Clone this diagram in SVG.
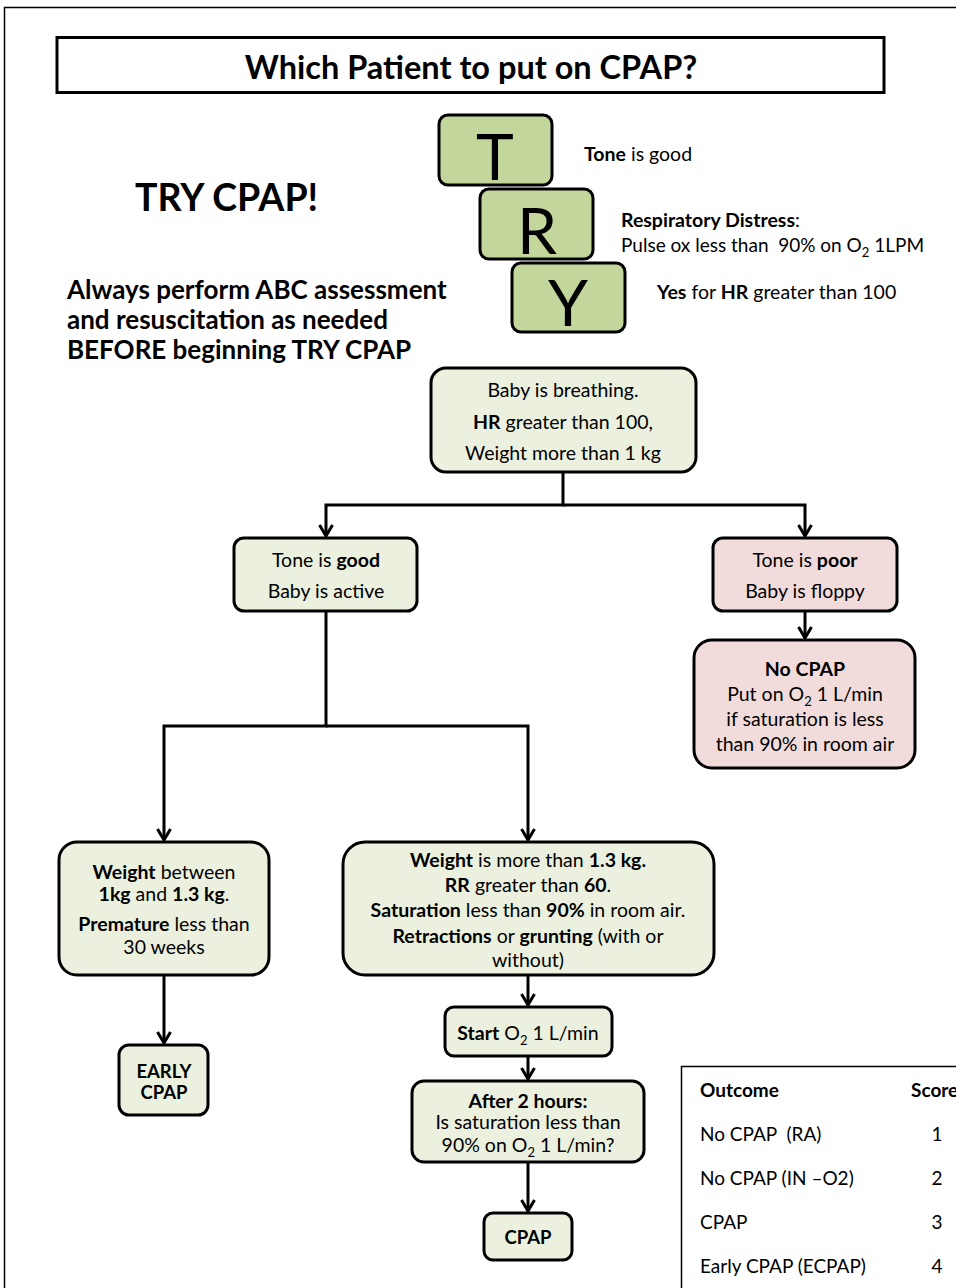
<svg xmlns="http://www.w3.org/2000/svg" width="956" height="1288" viewBox="0 0 956 1288">
<defs>
<style>
text{font-family:Lato,"Open Sans","Liberation Sans",sans-serif;fill:#000}
.b{font-weight:bold}
.box{stroke:#000;stroke-width:3}
.g{fill:#ebf1de}
.p{fill:#f2dcdb}
.try{fill:#c3d69b;stroke:#000;stroke-width:3}
.t18{font-size:19.5px}
.c{text-anchor:middle}
.pre{white-space:pre}
.con{fill:none;stroke:#000;stroke-width:3}
.big{font-size:64px}
.tb{font-size:19px}
</style>
<marker id="arr" markerUnits="userSpaceOnUse" viewBox="0 0 14 16" markerWidth="14" markerHeight="16" refX="12" refY="8" orient="auto">
<path d="M1,1.5 L12,8 L1,14.5" fill="none" stroke="#000" stroke-width="3"/>
</marker>
</defs>
<rect x="0" y="0" width="956" height="1288" fill="#fff"/>
<path d="M4.5,1288 V7.5 H960" fill="none" stroke="#000" stroke-width="1.5"/>

<g id="title">
<rect x="57" y="37.5" width="827" height="55" fill="#fff" stroke="#000" stroke-width="3"/>
<text x="471" y="79" class="b c" font-size="32.5">Which Patient to put on CPAP?</text>
</g>

<g id="try-t">
<rect x="439" y="115" width="113" height="70" rx="9" class="try"/>
<text x="495" y="180" class="c big">T</text>
</g>
<g id="try-r">
<rect x="480" y="189" width="113" height="70" rx="9" class="try"/>
<text x="537" y="254" class="c big">R</text>
</g>
<g id="try-y">
<rect x="512" y="263" width="113" height="69" rx="9" class="try"/>
<text x="568" y="326" class="c big">Y</text>
</g>
<g id="try-labels">
<text x="584" y="161" class="t18"><tspan class="b">Tone</tspan> is good</text>
<text x="621" y="227" class="t18"><tspan class="b">Respiratory Distress</tspan>:</text>
<text x="621" y="252" class="pre" font-size="19"><tspan>Pulse ox less than  90% on O</tspan><tspan font-size="13" dy="5">2</tspan><tspan dy="-5"> 1LPM</tspan></text>
<text x="657" y="299" class="t18"><tspan class="b">Yes</tspan> for <tspan class="b">HR</tspan> greater than 100</text>
</g>

<g id="try-cpap">
<text x="135" y="211" class="b" font-size="37.5">TRY CPAP!</text>
</g>
<g id="abc-note">
<text x="67" y="299" class="b" font-size="26">Always perform ABC assessment</text>
<text x="67" y="329" class="b" font-size="26">and resuscitation as needed</text>
<text x="67" y="359" class="b" font-size="26">BEFORE beginning TRY CPAP</text>
</g>

<g id="connectors">
<path class="con" d="M563,472 V505 H326 V536" marker-end="url(#arr)"/>
<path class="con" d="M563,505 H805 V536" marker-end="url(#arr)"/>
<path class="con" d="M805,611 V638" marker-end="url(#arr)"/>
<path class="con" d="M326,611 V726 H164 V840" marker-end="url(#arr)"/>
<path class="con" d="M326,726 H528 V840" marker-end="url(#arr)"/>
<path class="con" d="M164,975 V1043" marker-end="url(#arr)"/>
<path class="con" d="M528,975 V1005" marker-end="url(#arr)"/>
<path class="con" d="M528,1056 V1079" marker-end="url(#arr)"/>
<path class="con" d="M528,1162 V1211" marker-end="url(#arr)"/>
</g>

<g id="breathing">
<rect x="431" y="368" width="265" height="104" rx="15" class="box g"/>
<text x="563" y="397" class="t18 c">Baby is breathing.</text>
<text x="563" y="429" class="t18 c"><tspan class="b">HR</tspan> greater than 100,</text>
<text x="563" y="460" class="t18 c">Weight more than 1 kg</text>
</g>

<g id="tone-good">
<rect x="234" y="538" width="183" height="73" rx="10" class="box g"/>
<text x="326" y="567" class="t18 c">Tone is <tspan class="b">good</tspan></text>
<text x="326" y="598" class="t18 c">Baby is active</text>
</g>

<g id="tone-poor">
<rect x="713" y="538" width="184" height="73" rx="10" class="box p"/>
<text x="805" y="567" class="t18 c">Tone is <tspan class="b">poor</tspan></text>
<text x="805" y="598" class="t18 c">Baby is floppy</text>
</g>

<g id="no-cpap">
<rect x="694" y="640" width="221" height="128" rx="18" class="box p"/>
<text x="805" y="676" class="t18 c b">No CPAP</text>
<text x="805" y="701" class="t18 c">Put on O<tspan font-size="13" dy="5">2</tspan><tspan dy="-5"> 1 L/min</tspan></text>
<text x="805" y="726" class="t18 c">if saturation is less</text>
<text x="805" y="751" class="t18 c">than 90% in room air</text>
</g>

<g id="weight-between">
<rect x="59" y="842" width="210" height="133" rx="18" class="box g"/>
<text x="164" y="879" class="t18 c"><tspan class="b">Weight</tspan> between</text>
<text x="164" y="901" class="t18 c"><tspan class="b">1kg</tspan> and <tspan class="b">1.3 kg</tspan>.</text>
<text x="164" y="931" class="t18 c"><tspan class="b">Premature</tspan> less than</text>
<text x="164" y="954" class="t18 c">30 weeks</text>
</g>

<g id="weight-more">
<rect x="343" y="842" width="371" height="133" rx="22" class="box g"/>
<text x="528" y="867" class="t18 c"><tspan class="b">Weight</tspan> is more than <tspan class="b">1.3 kg.</tspan></text>
<text x="528" y="892" class="t18 c"><tspan class="b">RR</tspan> greater than <tspan class="b">60</tspan>.</text>
<text x="528" y="917" class="t18 c"><tspan class="b">Saturation</tspan> less than <tspan class="b">90%</tspan> in room air.</text>
<text x="528" y="943" class="t18 c"><tspan class="b">Retractions</tspan> or <tspan class="b">grunting</tspan> (with or</text>
<text x="528" y="967" class="t18 c">without)</text>
</g>

<g id="early-cpap">
<rect x="119" y="1045" width="89" height="70" rx="10" class="box g"/>
<text x="164" y="1078" class="c b" font-size="18.5">EARLY</text>
<text x="164" y="1099" class="c b" font-size="18.5">CPAP</text>
</g>

<g id="start-o2">
<rect x="445" y="1007" width="167" height="49" rx="9" class="box g"/>
<text x="528" y="1040" class="t18 c"><tspan class="b">Start</tspan> O<tspan font-size="13" dy="5">2</tspan><tspan dy="-5"> 1 L/min</tspan></text>
</g>

<g id="after-2h">
<rect x="412" y="1081" width="232" height="81" rx="12" class="box g"/>
<text x="528" y="1108" class="t18 c b">After 2 hours:</text>
<text x="528" y="1129" class="t18 c">Is saturation less than</text>
<text x="528" y="1152" class="t18 c">90% on O<tspan font-size="13" dy="5">2</tspan><tspan dy="-5"> 1 L/min?</tspan></text>
</g>

<g id="cpap">
<rect x="484" y="1213" width="88" height="47" rx="9" class="box g"/>
<text x="528" y="1244" class="c b" font-size="18.5">CPAP</text>
</g>

<g id="score-table">
<path d="M681.5,1290 V1066.5 H960" fill="#fff" stroke="#000" stroke-width="1.5"/>
<text x="700" y="1097" class="b tb">Outcome</text>
<text x="911" y="1097" class="b tb">Score</text>
<text x="700" y="1141" class="tb pre">No CPAP  (RA)</text>
<text x="937" y="1141" class="c tb">1</text>
<text x="700" y="1185" class="tb">No CPAP (IN –O2)</text>
<text x="937" y="1185" class="c tb">2</text>
<text x="700" y="1229" class="tb">CPAP</text>
<text x="937" y="1229" class="c tb">3</text>
<text x="700" y="1273" class="tb">Early CPAP (ECPAP)</text>
<text x="937" y="1273" class="c tb">4</text>
</g>
</svg>
